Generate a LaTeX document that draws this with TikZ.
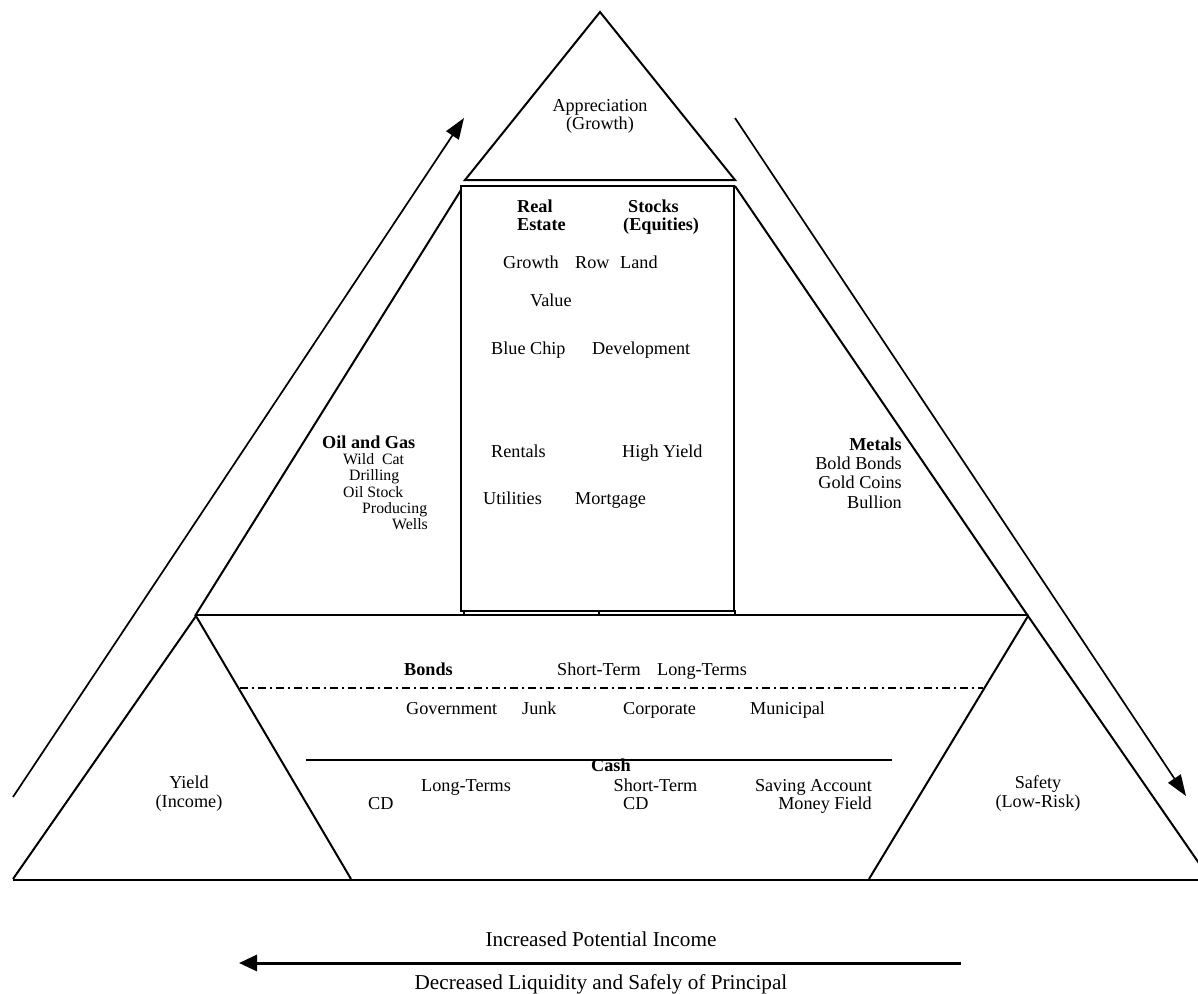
\documentclass[tikz,border=0pt]{standalone}
\usepackage{fontspec}
\setmainfont{Liberation Serif}
\usetikzlibrary{arrows.meta}
\newcommand\fsN{\fontsize{18.2}{19}\selectfont}
\newcommand\fsS{\fontsize{15.8}{17}\selectfont}
\newcommand\fsL{\fontsize{21.2}{23}\selectfont}
\begin{document}
\begin{tikzpicture}[x=1pt,y=-1pt,
  shape line/.style={line width=2pt, line join=miter},
  thin line/.style={line width=1.4pt},
  arr/.style={line width=1.7pt, -{Triangle[length=21pt,width=15pt]}},
  bigarr/.style={line width=3pt, -{Triangle[length=18pt,width=16pt]}},
  tw/.style={inner sep=0pt, anchor=base west, font=\fsN},
  te/.style={inner sep=0pt, anchor=base east, font=\fsN},
  tc/.style={inner sep=0pt, anchor=base, font=\fsL},
  tb/.style={tw, font=\fsN\bfseries},
  sw/.style={inner sep=0pt, anchor=base west, font=\fsS},
  blk/.style={inner sep=0pt, align=center, font=\fsN}]
\useasboundingbox (0,0) rectangle (1198,993);
\clip (0,0) rectangle (1198,993);

% ---- shapes ----
% top triangle (Appreciation)
\draw[shape line] (465,180) -- (600,12) -- (735,180) -- cycle;
% central box
\draw[shape line] (461,186) rectangle (734,611);
\draw[thin line] (464,611) rectangle (735,615);
\draw[thin line] (599,611) -- (599,615);
% pyramid sides
\draw[shape line] (195,616) -- (461,190);
\draw[shape line] (735,186) -- (1028,616);
% trapezoid top line
\draw[shape line] (195,615) -- (1028,615);
% yield triangle
\draw[shape line] (13,879) -- (196,616) -- (351,879);
% safety triangle
\draw[shape line] (869,879) -- (1028,616) -- (1212,882);
% base line
\draw[shape line] (13,879.5) -- (1198,879.5);
% bonds dash-dot line
\draw[line width=1.6pt, dash pattern=on 8pt off 4pt on 2pt off 4pt] (240,688) -- (983,688);
% cash line
\draw[line width=2pt] (306,760) -- (892,760);

% ---- arrows ----
\coordinate (la0) at (13,797);
\coordinate (la1) at (464,118);
\coordinate (ra0) at (735,118);
\coordinate (ra1) at (1186,796);
\coordinate (ba0) at (961,963);
\coordinate (ba1) at (239,963);
\draw[arr] (la0) -- (la1);
\draw[arr] (ra0) -- (ra1);
\draw[bigarr] (ba0) -- (ba1);

% ---- texts ----
\node[blk] (appr) at (600,116) {Appreciation\\[-1pt](Growth)};
\node[blk] (yield) at (189,793.5) {Yield\\[0pt](Income)};
\node[blk] (safety) at (1038,793.5) {Safety\\[0pt](Low-Risk)};

\node[tb] (real) at (517,212) {Real};
\node[tb] (estate) at (517,230) {Estate};
\node[tb] (stocks) at (628,212) {Stocks};
\node[tb] (equities) at (623,230) {(Equities)};
\node[tw] (growth) at (503,268) {Growth};
\node[tw] (row) at (575,268) {Row};
\node[tw] (land) at (620,268) {Land};
\node[tw] (value) at (530,306) {Value};
\node[tw] (bluechip) at (491,354) {Blue Chip};
\node[tw] (develop) at (592,354) {Development};
\node[tw] (rentals) at (491,457) {Rentals};
\node[tw] (highyield) at (622,457) {High Yield};
\node[tw] (utilities) at (483,504) {Utilities};
\node[tw] (mortgage) at (575,504) {Mortgage};

\node[tb] (oilgas) at (322,448) {Oil and Gas};
\node[sw] (wildcat) at (343,464.5) {Wild\ \ Cat};
\node[sw] (drilling) at (349,480.5) {Drilling};
\node[sw] (oilstock) at (343,497.5) {Oil Stock};
\node[sw] (producing) at (362,513.5) {Producing};
\node[sw] (wells) at (392,529.5) {Wells};

\node[te, font=\fsN\bfseries] (metals) at (902,450) {Metals};
\node[te] (boldbonds) at (902,469) {Bold Bonds};
\node[te] (goldcoins) at (902,488.5) {Gold Coins};
\node[te] (bullion) at (902,508) {Bullion};

\node[tb] (bonds) at (404,675) {Bonds};
\node[tw] (bshort) at (557,675) {Short-Term};
\node[tw] (blong) at (657,675) {Long-Terms};
\node[tw] (govt) at (406,714) {Government};
\node[tw] (junk) at (522,714) {Junk};
\node[tw] (corp) at (623,714) {Corporate};
\node[tw] (muni) at (750,714) {Municipal};

\node[tb] (cash) at (591,771) {Cash};
\node[tw] (clong) at (421,791) {Long-Terms};
\node[tw] (ccd1) at (368,809) {CD};
\node[tw] (cshort) at (613.5,791) {Short-Term};
\node[tw] (ccd2) at (623,809) {CD};
\node[te] (saving) at (872,791) {Saving Account};
\node[te] (money) at (872,809) {Money Field};

\node[tc] (incr) at (601,946) {Increased Potential Income};
\node[tc] (decr) at (601,989) {Decreased Liquidity and Safely of Principal};
\end{tikzpicture}
\end{document}
